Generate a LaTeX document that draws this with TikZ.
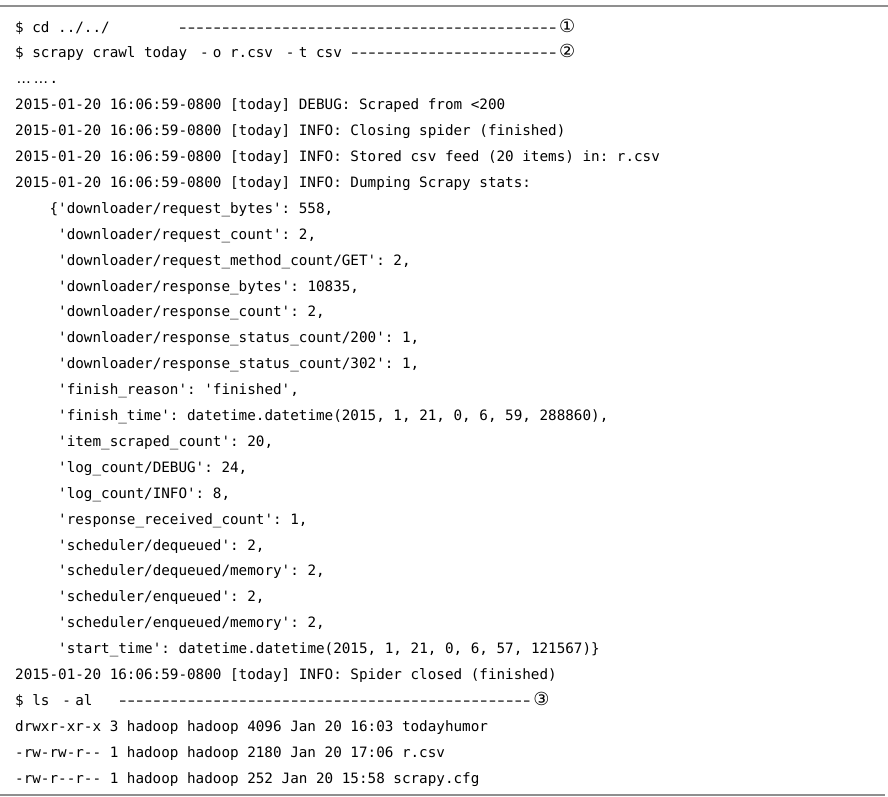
\documentclass[tikz,border=0pt]{standalone}
\usepackage{fontspec}
\setmonofont{DejaVu Sans Mono}
\newfontfamily\dvs{DejaVu Sans}
\definecolor{rulegray}{HTML}{8F8F8F}
\newcommand\logfont{\ttfamily\fontsize{14.28bp}{25.9bp}\selectfont\frenchspacing}
\newcommand\fw[1]{\makebox[17.2bp][c]{#1}}
\newcommand\sepdash{\makebox[8.6bp][c]{\scalebox{1.5}[1]{-}}}
\begin{document}
\begin{tikzpicture}[x=8.6bp,y=-25.9bp,
		logline/.style={anchor=base west,inner sep=0pt,font=\logfont},
		stepno/.style={anchor=base,inner sep=0pt,font={\dvs\fontsize{18bp}{18bp}\selectfont}},
		rule/.style={draw=rulegray,line width=2.5bp}]

	\useasboundingbox (0bp,0bp) rectangle (888bp,-797bp);
	\draw[rule] (0bp,-6bp) -- (888bp,-6bp);
	\draw[rule] (0bp,-795bp) -- (885bp,-795bp);

	\begin{scope}[shift={(15bp,-32bp)}]
		% commands with their step numbers
		\node[logline] (cd) at (0,0) {\$ cd ../../};
		\node[logline] (cdsep) at (19,0) {\foreach \k in {1,...,44}{\sepdash}};
		\node[stepno] (one) at (64.2,0) {①};

		\node[logline] (crawl) at (0,1) {\$ scrapy crawl today \fw{-}o r.csv \fw{-}t csv};
		\node[logline] (crawlsep) at (39,1) {\foreach \k in {1,...,24}{\sepdash}};
		\node[stepno] (two) at (64.2,1) {②};

		\node[logline] (dots) at (0,2) {\fw{\dvs …}\fw{\dvs …}.};

		% crawl log
		\node[logline] (log1) at (0,3) {2015-01-20 16:06:59-0800 [today] DEBUG: Scraped from <200};
		\node[logline] (log2) at (0,4) {2015-01-20 16:06:59-0800 [today] INFO: Closing spider (finished)};
		\node[logline] (log3) at (0,5) {2015-01-20 16:06:59-0800 [today] INFO: Stored csv feed (20 items) in: r.csv};
		\node[logline] (log4) at (0,6) {2015-01-20 16:06:59-0800 [today] INFO: Dumping Scrapy stats:};

		% stats
		\node[logline] (st1) at (4,7) {\{'downloader/request\_bytes': 558,};
		\node[logline] (st2) at (5,8) {'downloader/request\_count': 2,};
		\node[logline] (st3) at (5,9) {'downloader/request\_method\_count/GET': 2,};
		\node[logline] (st4) at (5,10) {'downloader/response\_bytes': 10835,};
		\node[logline] (st5) at (5,11) {'downloader/response\_count': 2,};
		\node[logline] (st6) at (5,12) {'downloader/response\_status\_count/200': 1,};
		\node[logline] (st7) at (5,13) {'downloader/response\_status\_count/302': 1,};
		\node[logline] (st8) at (5,14) {'finish\_reason': 'finished',};
		\node[logline] (st9) at (5,15) {'finish\_time': datetime.datetime(2015, 1, 21, 0, 6, 59, 288860),};
		\node[logline] (st10) at (5,16) {'item\_scraped\_count': 20,};
		\node[logline] (st11) at (5,17) {'log\_count/DEBUG': 24,};
		\node[logline] (st12) at (5,18) {'log\_count/INFO': 8,};
		\node[logline] (st13) at (5,19) {'response\_received\_count': 1,};
		\node[logline] (st14) at (5,20) {'scheduler/dequeued': 2,};
		\node[logline] (st15) at (5,21) {'scheduler/dequeued/memory': 2,};
		\node[logline] (st16) at (5,22) {'scheduler/enqueued': 2,};
		\node[logline] (st17) at (5,23) {'scheduler/enqueued/memory': 2,};
		\node[logline] (st18) at (5,24) {'start\_time': datetime.datetime(2015, 1, 21, 0, 6, 57, 121567)\}};

		\node[logline] (log5) at (0,25) {2015-01-20 16:06:59-0800 [today] INFO: Spider closed (finished)};

		% listing
		\node[logline] (ls) at (0,26) {\$ ls \fw{-}al};
		\node[logline] (lssep) at (12,26) {\foreach \k in {1,...,48}{\sepdash}};
		\node[stepno] (three) at (61.2,26) {③};

		\node[logline] (dir1) at (0,27) {drwxr-xr-x 3 hadoop hadoop 4096 Jan 20 16:03 todayhumor};
		\node[logline] (dir2) at (0,28) {-rw-rw-r-- 1 hadoop hadoop 2180 Jan 20 17:06 r.csv};
		\node[logline] (dir3) at (0,29) {-rw-r--r-- 1 hadoop hadoop 252 Jan 20 15:58 scrapy.cfg};
	\end{scope}

\end{tikzpicture}
\end{document}
